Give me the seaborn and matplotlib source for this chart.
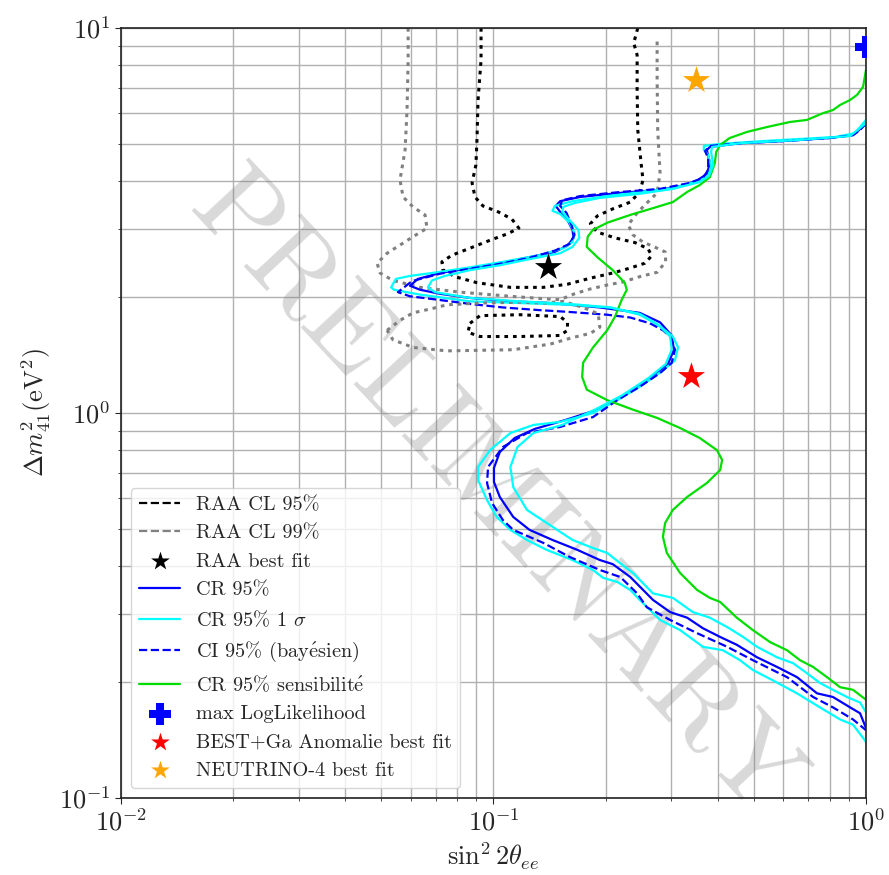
import matplotlib
matplotlib.use("Agg")
import matplotlib.pyplot as plt
import seaborn as sns

# ============================================================
# Data
# ============================================================

# RAA 95% contour (upper part) and lower island
raa95_x = [0.0926, 0.0926, 0.0909, 0.0903, 0.0897, 0.0876, 0.0892, 0.0937, 0.103, 0.112,
           0.117, 0.109, 0.0979, 0.0865, 0.0774, 0.0727, 0.0732, 0.0788, 0.0903, 0.111,
           0.136, 0.158, 0.182, 0.209, 0.233, 0.255, 0.266, 0.260, 0.240, 0.212,
           0.190, 0.182, 0.190, 0.209, 0.233, 0.247, 0.252, 0.249, 0.244, 0.243,
           0.243, 0.238, 0.244]
raa95_y = [10.0, 8.26, 6.50, 5.12, 4.41, 3.96, 3.64, 3.45, 3.33, 3.19,
           3.02, 2.92, 2.81, 2.68, 2.57, 2.47, 2.35, 2.26, 2.18, 2.12,
           2.12, 2.16, 2.24, 2.31, 2.38, 2.45, 2.56, 2.67, 2.77, 2.85,
           2.95, 3.10, 3.25, 3.39, 3.53, 3.75, 4.03, 4.46, 5.43, 6.90,
           8.51, 9.14, 10.0]
raa95_island_x = [0.0865, 0.0920, 0.118, 0.151, 0.158, 0.158, 0.151, 0.118, 0.0920, 0.0854, 0.0865]
raa95_island_y = [1.71, 1.79, 1.80, 1.78, 1.72, 1.64, 1.59, 1.58, 1.58, 1.62, 1.71]

# RAA 99% contour (upper part) and lower island
raa99_x = [0.0590, 0.0590, 0.0586, 0.0579, 0.0561, 0.0572, 0.0608, 0.0655, 0.0663, 0.0608,
           0.0561, 0.0518, 0.0487, 0.0496, 0.0537, 0.0635, 0.0813, 0.111, 0.137, 0.151,
           0.165, 0.182, 0.202, 0.223, 0.247, 0.275, 0.290, 0.289, 0.275, 0.252,
           0.237, 0.230, 0.243, 0.258, 0.275, 0.280, 0.276, 0.275, 0.275]
raa99_y = [10.0, 8.26, 6.12, 4.82, 4.03, 3.64, 3.43, 3.27, 3.02, 2.87,
           2.73, 2.60, 2.45, 2.31, 2.21, 2.12, 2.06, 2.01, 1.98, 1.97,
           2.04, 2.10, 2.15, 2.19, 2.26, 2.32, 2.47, 2.62, 2.68, 2.78,
           2.90, 3.08, 3.31, 3.51, 3.73, 4.20, 5.43, 7.33, 9.31]
raa99_island_x = [0.0518, 0.0561, 0.0608, 0.0688, 0.0750, 0.0920, 0.118, 0.137, 0.154, 0.174,
                  0.191, 0.193, 0.182, 0.163, 0.142, 0.113, 0.0750, 0.0608, 0.0537, 0.0518]
raa99_island_y = [1.64, 1.74, 1.82, 1.87, 1.91, 1.93, 1.94, 1.93, 1.95, 1.88,
                  1.81, 1.67, 1.61, 1.57, 1.51, 1.46, 1.45, 1.48, 1.55, 1.64]

# CR 95% (frequentist contour)
cr95_x = [1.0, 0.923, 0.801, 0.588, 0.459, 0.381, 0.374, 0.381, 0.374, 0.354,
          0.327, 0.280, 0.219, 0.171, 0.151, 0.147, 0.151, 0.158, 0.163, 0.164,
          0.158, 0.146, 0.125, 0.104, 0.0865, 0.0718, 0.0627, 0.0597, 0.0635, 0.0718,
          0.0865, 0.111, 0.142, 0.193, 0.247, 0.280, 0.301, 0.305, 0.294, 0.263,
          0.223, 0.190, 0.156, 0.129, 0.114, 0.104, 0.1003, 0.1003, 0.104, 0.113,
          0.125, 0.144, 0.168, 0.193, 0.209, 0.233, 0.268, 0.298, 0.331, 0.365,
          0.406, 0.450, 0.510, 0.577, 0.653, 0.739, 0.815, 0.906, 0.964, 1.0]
cr95_y = [5.63, 5.27, 5.18, 5.08, 5.02, 4.91, 4.82, 4.46, 4.18, 4.03,
          3.91, 3.80, 3.73, 3.64, 3.55, 3.45, 3.33, 3.17, 2.99, 2.85,
          2.72, 2.62, 2.54, 2.45, 2.38, 2.31, 2.23, 2.14, 2.09, 2.04,
          1.99, 1.95, 1.93, 1.88, 1.82, 1.72, 1.59, 1.46, 1.34, 1.23,
          1.11, 1.02, 0.959, 0.909, 0.861, 0.792, 0.720, 0.662, 0.605, 0.537,
          0.497, 0.468, 0.441, 0.415, 0.405, 0.375, 0.327, 0.304, 0.294, 0.276,
          0.262, 0.250, 0.232, 0.219, 0.206, 0.187, 0.183, 0.172, 0.166, 0.152]

# CR 95% +/- 1 sigma (two contours)
cr95_s1_x = [1.0, 0.934, 0.826, 0.665, 0.519, 0.406, 0.367, 0.367, 0.377, 0.384,
             0.377, 0.358, 0.303, 0.247, 0.202, 0.163, 0.146, 0.144, 0.151, 0.160,
             0.165, 0.163, 0.154, 0.133, 0.106, 0.0865, 0.0705, 0.0597, 0.0547, 0.0531,
             0.0541, 0.0635, 0.0865, 0.118, 0.160, 0.206, 0.247, 0.280, 0.303, 0.313,
             0.307, 0.285, 0.247, 0.215, 0.185, 0.151, 0.128, 0.111, 0.0979, 0.0909,
             0.0909, 0.0961, 0.102, 0.111, 0.123, 0.139, 0.163, 0.185, 0.197, 0.215,
             0.233, 0.247, 0.280, 0.317, 0.365, 0.413, 0.459, 0.497, 0.563, 0.653,
             0.752, 0.852, 0.923, 1.0]
cr95_s1_y = [5.77, 5.33, 5.21, 5.15, 5.08, 5.00, 4.94, 4.82, 4.68, 4.36,
             4.13, 4.01, 3.84, 3.75, 3.66, 3.55, 3.45, 3.35, 3.29, 3.12,
             2.94, 2.78, 2.68, 2.57, 2.47, 2.39, 2.32, 2.27, 2.23, 2.12,
             2.09, 2.03, 1.95, 1.93, 1.91, 1.88, 1.80, 1.68, 1.58, 1.48,
             1.37, 1.29, 1.17, 1.08, 1.00, 0.948, 0.931, 0.887, 0.801, 0.724,
             0.670, 0.594, 0.537, 0.497, 0.468, 0.441, 0.415, 0.391, 0.373, 0.364,
             0.347, 0.327, 0.290, 0.273, 0.247, 0.242, 0.228, 0.215, 0.202, 0.187,
             0.172, 0.160, 0.155, 0.140]
cr95_s2_x = [1.0, 0.906, 0.665, 0.459, 0.386, 0.384, 0.389, 0.379, 0.358, 0.303,
             0.247, 0.193, 0.165, 0.154, 0.153, 0.160, 0.169, 0.170, 0.163, 0.151,
             0.125, 0.104, 0.0865, 0.0741, 0.0684, 0.0667, 0.0697, 0.0865, 0.118, 0.160,
             0.206, 0.247, 0.276, 0.298, 0.301, 0.290, 0.260, 0.221, 0.187, 0.153,
             0.128, 0.116, 0.111, 0.113, 0.123, 0.139, 0.163, 0.185, 0.202, 0.219,
             0.237, 0.268, 0.303, 0.343, 0.381, 0.424, 0.468, 0.510, 0.577, 0.637,
             0.694, 0.752, 0.815, 0.889, 0.964, 1.0]
cr95_s2_y = [5.66, 5.24, 5.12, 5.02, 4.91, 4.76, 4.41, 4.13, 3.98, 3.82,
             3.71, 3.62, 3.51, 3.43, 3.33, 3.17, 2.99, 2.85, 2.70, 2.60,
             2.51, 2.42, 2.35, 2.27, 2.21, 2.12, 2.06, 1.99, 1.95, 1.92,
             1.88, 1.81, 1.70, 1.58, 1.46, 1.34, 1.23, 1.11, 1.02, 0.931,
             0.887, 0.816, 0.724, 0.642, 0.560, 0.518, 0.468, 0.446, 0.433, 0.407,
             0.384, 0.340, 0.331, 0.304, 0.294, 0.278, 0.262, 0.247, 0.232, 0.224,
             0.211, 0.199, 0.191, 0.183, 0.177, 0.167]

# CI 95% (bayesian)
ci95_x = [1.0, 0.964, 0.923, 0.801, 0.588, 0.459, 0.381, 0.370, 0.377, 0.377,
          0.365, 0.337, 0.280, 0.219, 0.171, 0.153, 0.151, 0.157, 0.162, 0.165,
          0.160, 0.146, 0.125, 0.104, 0.0865, 0.0718, 0.0604, 0.0554, 0.0597, 0.0705,
          0.0865, 0.106, 0.133, 0.160, 0.202, 0.233, 0.263, 0.285, 0.298, 0.307,
          0.301, 0.280, 0.247, 0.215, 0.185, 0.151, 0.123, 0.106, 0.0967, 0.0961,
          0.0991, 0.106, 0.113, 0.136, 0.160, 0.193, 0.219, 0.243, 0.258, 0.298,
          0.352, 0.424, 0.497, 0.614, 0.721, 0.815, 0.923, 1.0]
ci95_y = [5.66, 5.43, 5.27, 5.18, 5.08, 5.02, 4.94, 4.79, 4.59, 4.28,
          4.08, 3.96, 3.82, 3.75, 3.66, 3.57, 3.45, 3.31, 3.08, 2.90,
          2.75, 2.64, 2.53, 2.44, 2.37, 2.30, 2.20, 2.06, 2.01, 1.97,
          1.92, 1.88, 1.85, 1.83, 1.80, 1.77, 1.71, 1.64, 1.58, 1.46,
          1.35, 1.27, 1.17, 1.08, 0.976, 0.920, 0.887, 0.816, 0.724, 0.658,
          0.584, 0.527, 0.497, 0.460, 0.423, 0.391, 0.375, 0.340, 0.313, 0.290,
          0.268, 0.247, 0.228, 0.206, 0.183, 0.172, 0.160, 0.150]

# CR 95% sensitivity
sens_x = [1.0, 0.982, 0.946, 0.906, 0.852, 0.815, 0.767, 0.694, 0.625, 0.542,
          0.479, 0.431, 0.406, 0.396, 0.393, 0.381, 0.358, 0.331, 0.303, 0.275,
          0.233, 0.202, 0.185, 0.179, 0.178, 0.190, 0.209, 0.225, 0.228, 0.221,
          0.212, 0.202, 0.185, 0.174, 0.173, 0.178, 0.202, 0.237, 0.275, 0.317,
          0.358, 0.398, 0.411, 0.406, 0.374, 0.331, 0.303, 0.289, 0.285, 0.292,
          0.317, 0.352, 0.381, 0.406, 0.450, 0.497, 0.553, 0.614, 0.665, 0.721,
          0.786, 0.852, 0.923, 1.0]
sens_y = [7.78, 7.03, 6.70, 6.50, 6.31, 6.12, 6.01, 5.77, 5.70, 5.53,
          5.37, 5.18, 4.97, 4.76, 4.46, 4.10, 3.91, 3.75, 3.53, 3.43,
          3.27, 3.12, 2.99, 2.87, 2.70, 2.54, 2.35, 2.18, 2.09, 1.97,
          1.78, 1.64, 1.48, 1.35, 1.24, 1.15, 1.08, 1.02, 0.971, 0.914,
          0.861, 0.801, 0.755, 0.711, 0.658, 0.605, 0.560, 0.518, 0.477, 0.433,
          0.384, 0.347, 0.331, 0.323, 0.294, 0.273, 0.254, 0.242, 0.228, 0.219,
          0.206, 0.194, 0.191, 0.180]

# best fit points
raa_bf = (0.14, 2.40)
maxll = (1.0, 8.93)
best_ga = (0.34, 1.25)
neutrino4 = (0.35, 7.33)

# ============================================================
# Style
# ============================================================

sns.set_style("ticks")
plt.rcParams["font.family"] = ["cmr10", "DejaVu Serif"]
plt.rcParams["mathtext.fontset"] = "cm"
plt.rcParams["axes.unicode_minus"] = False
plt.rcParams["axes.formatter.use_mathtext"] = True

fig, ax = plt.subplots(figsize=(8.89, 8.75), dpi=100)
fig.subplots_adjust(left=0.1361, right=0.9741, top=0.968, bottom=0.088)

ax.set_xscale("log")
ax.set_yscale("log")

# ============================================================
# Curves
# ============================================================

line_kw = dict(sort=False, estimator=None, ax=ax)
raa_dash = (0, (1.2, 1.6))

sns.lineplot(x=raa95_x, y=raa95_y, color="black", linestyle=raa_dash, linewidth=2.2,
             label="RAA CL 95%", **line_kw)
sns.lineplot(x=raa99_x, y=raa99_y, color="gray", linestyle=raa_dash, linewidth=2.2,
             label="RAA CL 99%", **line_kw)

sns.scatterplot(x=[raa_bf[0]], y=[raa_bf[1]], marker="*", s=420, color="black",
                linewidth=0, label="RAA best fit", ax=ax, zorder=5)

sns.lineplot(x=cr95_x, y=cr95_y, color="blue", linewidth=1.6,
             label="CR 95%", **line_kw)
sns.lineplot(x=cr95_s1_x, y=cr95_s1_y, color="cyan", linewidth=1.6,
             label=r"CR 95% 1 $\sigma$", **line_kw)
sns.lineplot(x=ci95_x, y=ci95_y, color="blue", linestyle="--", linewidth=1.6,
             label=r"CI 95% (bay$\mathrm{\acute{e}}$sien)", **line_kw)
sns.lineplot(x=sens_x, y=sens_y, color="#00dd00", linewidth=1.6,
             label=r"CR 95% sensibilit$\mathrm{\acute{e}}$", **line_kw)

sns.scatterplot(x=[maxll[0]], y=[maxll[1]], marker="P", s=230, color="blue",
                linewidth=0, label="max LogLikelihood", ax=ax, zorder=5)
sns.scatterplot(x=[best_ga[0]], y=[best_ga[1]], marker="*", s=420, color="red",
                linewidth=0, label="BEST+Ga Anomalie best fit", ax=ax, zorder=5)
sns.scatterplot(x=[neutrino4[0]], y=[neutrino4[1]], marker="*", s=420, color="orange",
                linewidth=0, label="NEUTRINO-4 best fit", ax=ax, zorder=5)

# second pieces, without legend entries
sns.lineplot(x=raa95_island_x, y=raa95_island_y, color="black", linestyle=raa_dash,
             linewidth=2.2, **line_kw)
sns.lineplot(x=raa99_island_x, y=raa99_island_y, color="gray", linestyle=raa_dash,
             linewidth=2.2, **line_kw)
sns.lineplot(x=cr95_s2_x, y=cr95_s2_y, color="cyan", linewidth=1.6, **line_kw)

# watermark
ax.text(0.499, 0.392, "PRELIMINARY", transform=ax.transAxes, rotation=-47,
        fontsize=82, color="gray", alpha=0.3, ha="center", va="center",
        rotation_mode="anchor", zorder=1)

# ============================================================
# Axes
# ============================================================

ax.set_xlim(0.01, 1)
ax.set_ylim(0.1, 10)
ax.set_axisbelow(True)
ax.grid(True, which="both", color="#b0b0b0", linewidth=1.0)
ax.tick_params(which="major", labelsize=19, length=4)
ax.tick_params(which="minor", length=2)

ax.set_xlabel(r"$\sin^2 2\theta_{ee}$", fontsize=19)
ax.set_ylabel(r"$\Delta m^2_{41}(\mathrm{eV}^2)$", fontsize=19)

for s in ax.spines.values():
    s.set_linewidth(1.2)
    s.set_color("#222222")

handles, labels = ax.get_legend_handles_labels()
leg = ax.legend(handles, labels, loc="lower left", fontsize=14.6)
for h, lab in zip(leg.legend_handles, labels):
    if "best fit" in lab:
        h.set_sizes([200])
    if lab.startswith("RAA CL"):
        h.set_linestyle("--")
        h.set_linewidth(1.6)

fig.savefig("out.png", dpi=100)
